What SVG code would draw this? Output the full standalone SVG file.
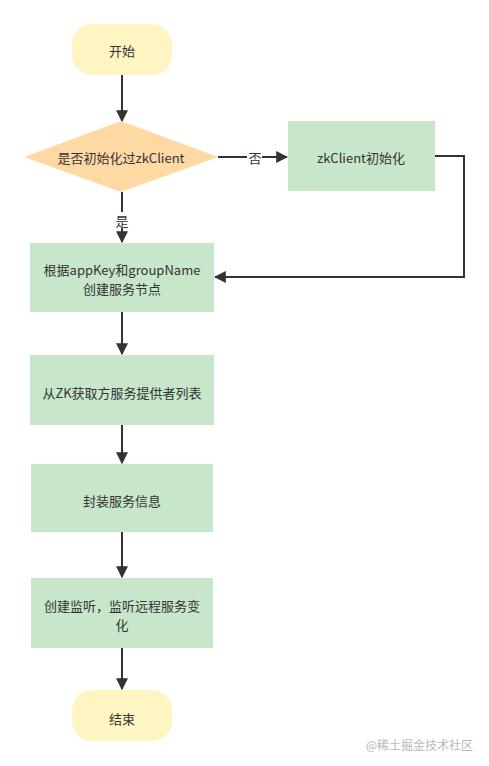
<svg xmlns="http://www.w3.org/2000/svg" width="489" height="766" viewBox="0 0 489 766">
<defs>
<style>
text{font-family:"Noto Sans CJK SC","Liberation Sans",sans-serif;font-size:13px;fill:#333;text-anchor:middle;dominant-baseline:central}
.term{fill:#fff5c2}
.proc{fill:#c8e6c9}
.dec{fill:#ffd9a3}
.edge{fill:none;stroke:#333;stroke-width:2}
.lbl{fill:#fff}
.wm{font-size:12px;fill:#b8b8b8;text-anchor:end}
</style>
<marker id="ah" viewBox="0 0 10 10" refX="9" refY="5" markerWidth="6" markerHeight="6" markerUnits="strokeWidth" orient="auto">
<path d="M0,0 L10,5 L0,10 z" fill="#333"/>
</marker>
</defs>
<rect width="489" height="766" fill="#fff"/>
<g id="connectors">
<path class="edge" d="M122,75 L122,121" marker-end="url(#ah)"/>
<path class="edge" d="M218,157 L287,157" marker-end="url(#ah)"/>
<path class="edge" d="M122,192 L122,242" marker-end="url(#ah)"/>
<path class="edge" d="M435,156 L464,156 L464,277 L215,277" marker-end="url(#ah)"/>
<path class="edge" d="M122,312 L122,354" marker-end="url(#ah)"/>
<path class="edge" d="M122,425 L122,463" marker-end="url(#ah)"/>
<path class="edge" d="M122,532 L122,577" marker-end="url(#ah)"/>
<path class="edge" d="M122,648 L122,689" marker-end="url(#ah)"/>
<rect class="lbl" x="247" y="149" width="15" height="16"/>
<text x="255" y="157">否</text>
<rect class="lbl" x="115" y="212" width="14" height="16"/>
<text x="122" y="220">是</text>
</g>
<g id="start">
<rect class="term" x="72" y="24" width="100" height="51" rx="20" ry="20"/>
<text x="122" y="50">开始</text>
</g>
<g id="decision">
<polygon class="dec" points="121,121 218,157 121,192 24,157"/>
<text x="121" y="157">是否初始化过zkClient</text>
</g>
<g id="init">
<rect class="proc" x="288" y="121" width="147" height="70"/>
<text x="361" y="157">zkClient初始化</text>
</g>
<g id="create-node">
<rect class="proc" x="30" y="243" width="184" height="69"/>
<text x="122" y="269">根据appKey和groupName</text>
<text x="122" y="288">创建服务节点</text>
</g>
<g id="fetch">
<rect class="proc" x="30" y="355" width="184" height="70"/>
<text x="122" y="392">从ZK获取方服务提供者列表</text>
</g>
<g id="wrap">
<rect class="proc" x="31" y="464" width="182" height="68"/>
<text x="122" y="500">封装服务信息</text>
</g>
<g id="listen">
<rect class="proc" x="31" y="578" width="182" height="70"/>
<text x="122" y="605">创建监听，监听远程服务变</text>
<text x="122" y="624">化</text>
</g>
<g id="end">
<rect class="term" x="72" y="690" width="100" height="51" rx="20" ry="20"/>
<text x="122" y="718">结束</text>
</g>
<text class="wm" x="473" y="744">@稀土掘金技术社区</text>
</svg>
